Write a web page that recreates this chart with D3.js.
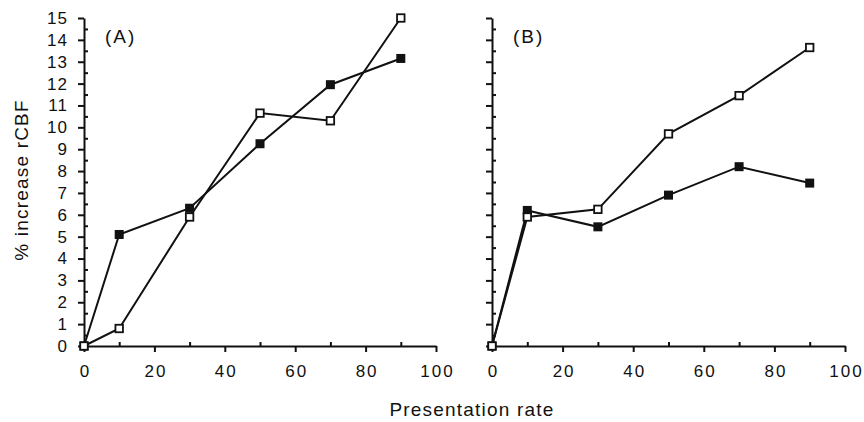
<!DOCTYPE html>
<html>
<head>
<meta charset="utf-8">
<script src="https://cdn.jsdelivr.net/npm/d3@7"></script>
<style>
  body { margin: 0; background: #fff; }
  svg text { font-family: "Liberation Sans", Arial, Helvetica, sans-serif; fill: #111; }
</style>
</head>
<body>
<svg id="chart" width="864" height="422"></svg>
<script>
// presentation rates (x) shared by every series
var rates = [0, 10, 30, 50, 70, 90];

// panel (A)
var aFilled = [0, 5.1, 6.3, 9.25, 11.95, 13.15];
var aOpen   = [0, 0.8, 5.9, 10.65, 10.3, 15.0];

// panel (B)
var bFilled = [0, 6.2, 5.45, 6.9, 8.2, 7.45];
var bOpen   = [0, 5.9, 6.25, 9.7, 11.45, 13.65];

var xTicks = [0, 20, 40, 60, 80, 100];
var xMinorTicks = [10, 30, 50, 70, 90];
var yTicks = d3.range(0, 16);
var yMinorTicks = d3.range(0.5, 15, 1);

var svg = d3.select("#chart");

var y = d3.scaleLinear().domain([0, 15]).range([346, 18]);

var panels = [
  { name: "(A)", left: 84, right: 436, labels: true, filled: aFilled, open: aOpen },
  { name: "(B)", left: 492, right: 845, labels: false, filled: bFilled, open: bOpen }
];

function drawPanel(p) {
  var x = d3.scaleLinear().domain([0, 100]).range([p.left, p.right]);
  var g = svg.append("g");

  // x axis, major ticks down, minor ticks up
  var xa = g.append("g")
      .attr("transform", "translate(0," + y(0) + ")")
      .call(d3.axisBottom(x).tickValues(xTicks).tickSize(6).tickSizeOuter(0).tickPadding(13));
  xa.selectAll("text")
      .style("font-size", "17px")
      .style("letter-spacing", "2px")
      .attr("dx", "1px");

  g.append("g")
      .attr("transform", "translate(0," + y(0) + ")")
      .call(d3.axisBottom(x).tickValues(xMinorTicks).tickSize(-4).tickFormat(""))
      .select(".domain").remove();

  // y axis, major ticks left, minor ticks right
  var ya = g.append("g")
      .attr("transform", "translate(" + p.left + ",0)")
      .call(d3.axisLeft(y).tickValues(yTicks).tickSize(6).tickSizeOuter(0).tickPadding(10)
        .tickFormat(p.labels ? d3.format("d") : ""));
  ya.selectAll("text")
      .style("font-size", "17px")
      .style("letter-spacing", "1px");

  g.append("g")
      .attr("transform", "translate(" + p.left + ",0)")
      .call(d3.axisLeft(y).tickValues(yMinorTicks).tickSize(-4).tickFormat(""))
      .select(".domain").remove();

  g.selectAll(".domain, .tick line").attr("stroke", "#111").attr("stroke-width", 2);

  g.append("text")
      .attr("x", p.left + 21)
      .attr("y", 43)
      .style("font-size", "19px")
      .style("letter-spacing", "2px")
      .text(p.name);

  var line = d3.line()
      .x(function(d, i) { return x(rates[i]); })
      .y(function(d) { return y(d); });

  [p.filled, p.open].forEach(function(series) {
    g.append("path")
        .datum(series)
        .attr("fill", "none")
        .attr("stroke", "#111")
        .attr("stroke-width", 2)
        .attr("d", line);
  });

  var s = 9;
  g.selectAll(".filled").data(p.filled).enter().append("rect")
      .attr("x", function(d, i) { return x(rates[i]) - s / 2; })
      .attr("y", function(d) { return y(d) - s / 2; })
      .attr("width", s).attr("height", s)
      .attr("fill", "#111");

  g.selectAll(".open").data(p.open).enter().append("rect")
      .attr("x", function(d, i) { return x(rates[i]) - (s - 1.5) / 2; })
      .attr("y", function(d) { return y(d) - (s - 1.5) / 2; })
      .attr("width", s - 1.5).attr("height", s - 1.5)
      .attr("fill", "#fff")
      .attr("stroke", "#111")
      .attr("stroke-width", 1.8);
}

panels.forEach(drawPanel);

svg.append("text")
    .attr("transform", "translate(28,180) rotate(-90)")
    .attr("text-anchor", "middle")
    .style("font-size", "19px")
    .style("letter-spacing", "1.2px")
    .text("% increase rCBF");

svg.append("text")
    .attr("x", 472)
    .attr("y", 416)
    .attr("text-anchor", "middle")
    .style("font-size", "19px")
    .style("letter-spacing", "1.2px")
    .text("Presentation rate");
</script>
</body>
</html>
